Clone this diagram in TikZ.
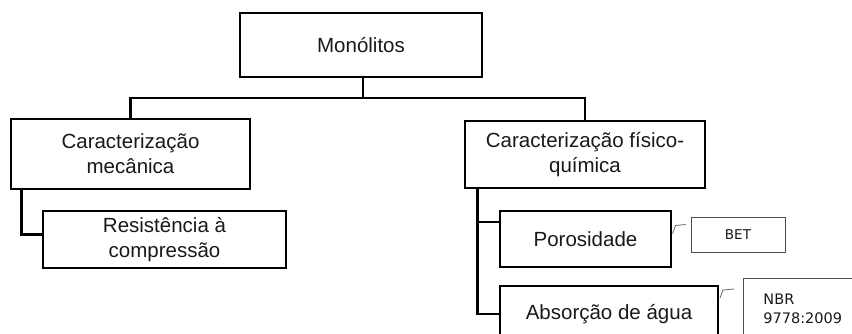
\documentclass[tikz,border=0pt]{standalone}
\usepackage{fontspec}
\setmainfont{Liberation Sans}
\newfontfamily\notefont{DejaVu Sans}
\usetikzlibrary{positioning}
\tikzset{
  box/.style={draw,line width=2.6pt,inner sep=0pt,align=center,text=black!90,
    font=\fontsize{20.5}{25}\selectfont},
  note/.style={draw=black!70,line width=0.9pt,inner sep=0pt,text=black!90},
  link/.style={line width=2.6pt},
  tick/.style={line width=0.8pt,black!60}
}
\begin{document}
\begin{tikzpicture}[x=1pt,y=-1pt]
\useasboundingbox(0,0)rectangle(852,333);
\clip(0,0)rectangle(852,333);
%boxes
\node[box,minimum width=242,minimum height=64](mono)at(361,45){Mon\'olitos};
\node[box,minimum width=239,minimum height=70](mec)at(130.5,154){\raisebox{-2pt}{\parbox{200pt}{\centering Caracteriza\c{c}\~ao\\mec\^anica}}};
\node[box,minimum width=240,minimum height=67](fq)at(585,154.5){\raisebox{-2pt}{\parbox{220pt}{\centering Caracteriza\c{c}\~ao f\'isico-\\qu\'imica}}};
\node[box,minimum width=243,minimum height=57](resist)at(164.5,239.5){Resist\^encia \`a\\compress\~ao};
\node[box,minimum width=171,minimum height=56](poros)at(585.5,239){Porosidade};
\node[box,minimum width=218,minimum height=56](absor)at(609,314){Absor\c{c}\~ao de \'agua};
%notes
\node[note,minimum width=94,minimum height=35,font=\notefont\fontsize{13.5}{16}\selectfont](bet)at(738,234.5){BET};
\node[note,anchor=north west,text width=92,inner xsep=20,minimum height=60,align=left,
  font=\notefont\fontsize{14.5}{19}\selectfont](nbr)at(743,278){NBR\\9778:2009};
%connectors
\coordinate(bus)at(363,98);
\draw[link](mono.south-|bus)--(bus);
\draw[link](mec.north)|-(bus)-|(fq.north);
\draw[link]([xshift=12]mec.south west)|-([yshift=5]resist.west);
\draw[link]([xshift=14]fq.south west)|-([yshift=17]poros.west);
\draw[link]([xshift=14]fq.south west)|-(absor.west);
%callout ticks
\draw[tick](bet.west)++(-18,-1)--++(3,-8)--++(10,-1);
\draw[tick](nbr.north west)++(-23,20)--++(3,-8)--++(11,-1);
\end{tikzpicture}
\end{document}
